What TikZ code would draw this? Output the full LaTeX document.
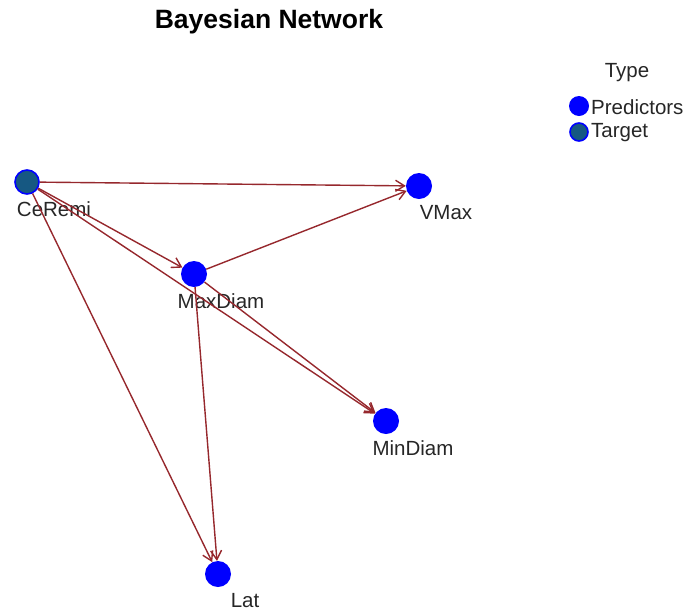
\documentclass[tikz,border=0pt]{standalone}
\usepackage{fontspec}
\setmainfont{Liberation Sans}
\usetikzlibrary{arrows.meta}
\definecolor{edgered}{RGB}{150,40,45}
\definecolor{predblue}{RGB}{0,0,255}
\definecolor{targteal}{RGB}{22,88,130}
\tikzset{
  pred/.style={circle,fill=predblue,inner sep=0pt,minimum size=26pt},
  targ/.style={circle,fill=targteal,draw=predblue,line width=1.6pt,inner sep=0pt,minimum size=24pt},
  lbl/.style={font=\fontsize{20.5}{24}\selectfont,text=black!85,inner sep=0pt},
  edge/.style={draw=edgered,line width=1.4pt,-{Straight Barb[length=9pt,width=11pt,line width=1.4pt]}}
}
\begin{document}
\begin{tikzpicture}[x=1pt,y=-1pt]
\useasboundingbox(0,0)rectangle(691,614);
\node[font=\bfseries\fontsize{26.5}{30}\selectfont] (title) at (269,22) {Bayesian Network};
% nodes
\node[targ] (ce) at (27,182) {};
\foreach \n/\x/\y in {vm/419/186,md/194/274,mi/386/421,la/218/574}{\node[pred] (\n) at (\x,\y) {};}
% labels
\foreach \n/\t in {ce/CeRemi,vm/VMax,md/MaxDiam,mi/MinDiam,la/Lat}{\node[lbl,at={(\n)},xshift=27,yshift=-27] (\n-t) {\t};}
% arcs
\foreach \a/\b in {ce/vm,ce/md,ce/mi,ce/la,md/vm,md/mi,md/la}{\draw[edge](\a)--(\b);}
% legend
\node[lbl] (key) at (627,73) {Type};
\node[pred,minimum size=20pt] (kp) at (579,106) {};
\node[targ,minimum size=18pt] (kt) at (579,132) {};
\node[lbl,anchor=west] (kp-t) at (591,107) {Predictors};
\node[lbl,anchor=west] (kt-t) at (591,133) {Target};
\end{tikzpicture}
\end{document}
